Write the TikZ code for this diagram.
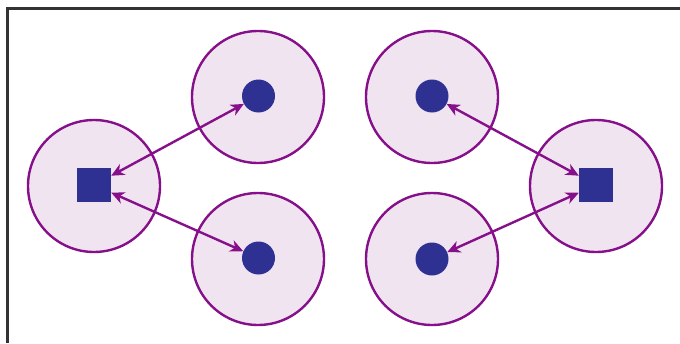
\documentclass[tikz,border=0pt]{standalone}
\usetikzlibrary{arrows.meta}
\definecolor{ringfill}{HTML}{F1E4F1}
\definecolor{ringline}{HTML}{86108A}
\definecolor{dotblue}{HTML}{2E3192}
\tikzset{
  ring/.style={circle, draw=ringline, fill=ringfill, line width=2.4pt, minimum size=132pt, inner sep=0pt},
  dotnode/.style={circle, fill=dotblue, minimum size=33pt, inner sep=0pt},
  sqnode/.style={rectangle, fill=dotblue, minimum size=34pt, inner sep=0pt},
  link/.style={draw=ringline, line width=2.4pt, {Stealth[length=13pt,width=12pt,inset=4pt]}-{Stealth[length=13pt,width=12pt,inset=4pt]}},
  frame/.style={draw=black!80, line width=2.6pt}
}
\begin{document}
\begin{tikzpicture}[x=1pt,y=-1pt]
\useasboundingbox (0,0) rectangle (680,343);
\draw[frame] (7.5,343) -- (7.5,8.5) -- (680,8.5);
% rings
\node[ring] (rL) at (94,186) {};
\node[ring] (rTL) at (258,97) {};
\node[ring] (rBL) at (258,259) {};
\node[ring] (rTR) at (432,97) {};
\node[ring] (rBR) at (432,259) {};
\node[ring] (rR) at (596,186) {};
% centres
\node[sqnode] (sL) at (94,185) {};
\node[dotnode] (dTL) at (258.5,96) {};
\node[dotnode] (dBL) at (258.5,258) {};
\node[dotnode] (dTR) at (432,96) {};
\node[dotnode] (dBR) at (432,259) {};
\node[sqnode] (sR) at (596,185) {};
% links
\draw[link] (sL) -- (dTL);
\draw[link] (sL) -- (dBL);
\draw[link] (dTR) -- (sR);
\draw[link] (dBR) -- (sR);
\end{tikzpicture}
\end{document}
